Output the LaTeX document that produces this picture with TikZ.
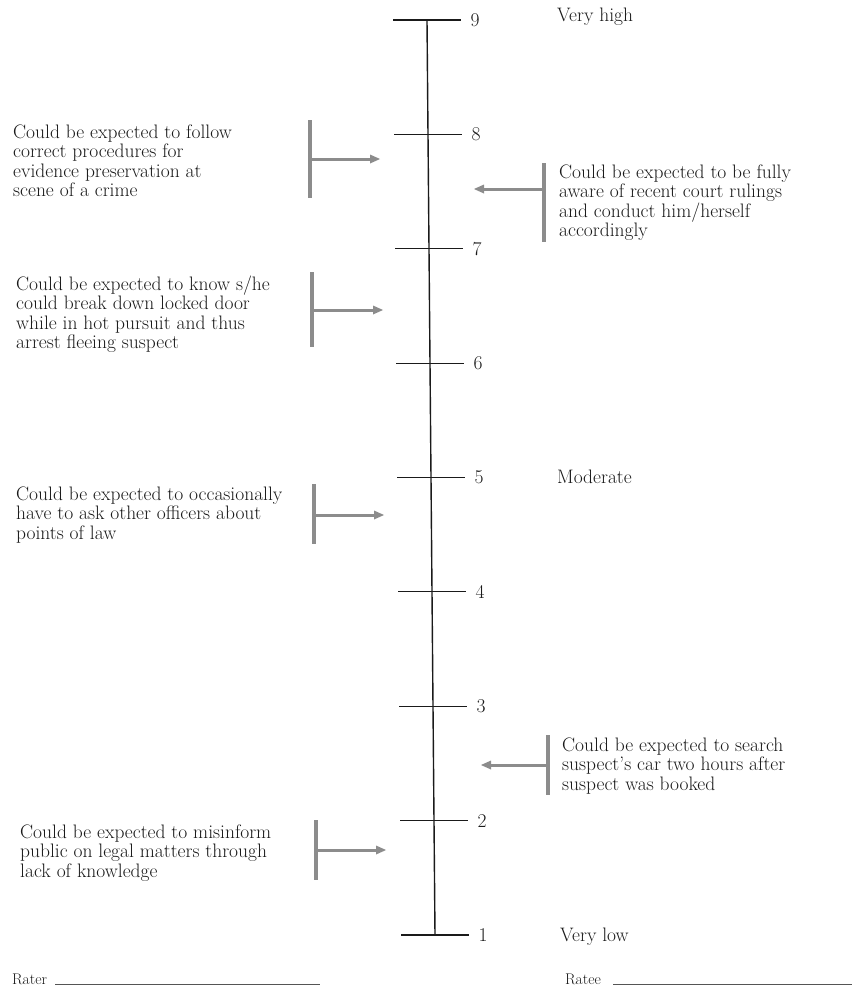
\documentclass[tikz,border=0pt]{standalone}
\usepackage{xcolor}
\usepackage{tikz}
\usetikzlibrary{
  arrows.meta,
  positioning,
  calc
}
\definecolor{bsInk}{HTML}{1A1A1A}
\definecolor{bsBar}{HTML}{8C8C8C}
\definecolor{bsRule}{HTML}{555555}
\newcommand{\bsfont}{\fontsize{19.5}{19.5}\selectfont}
\newcommand{\bssmall}{\fontsize{15.5}{17}\selectfont}
\tikzset{
  bsaxis/.style={draw=bsInk, line width=1.4pt},
  bstick/.style={draw=bsInk, line width=1.1pt},
  bsnum/.style={right, inner sep=0pt, xshift=9pt, font=\bsfont, text=bsInk},
  bslevel/.style={anchor=base west, inner sep=0pt, font=\bsfont, text=bsInk},
  bsanchor/.style={anchor=north west, inner sep=0pt, align=left, font=\bsfont, text=bsInk},
  bsbar/.style={draw=bsBar, line width=4pt},
  bsarrow/.style={draw=bsBar, line width=3pt, -{Triangle[length=10pt, width=9pt, line width=0pt]}},
  bssign/.style={draw=bsRule, line width=0.9pt},
  bssignlabel/.style={anchor=base west, inner sep=0pt, font=\bssmall, text=bsInk}
}

\begin{document}
\begin{tikzpicture}[x=1pt, y=-1pt]
  \useasboundingbox (0,0) rectangle (854,989);

  % the rating scale
  \foreach \v in {1,...,9}
    \coordinate (t\v) at ({435-(\v-1)}, {935-(\v-1)*114.375});
  \draw[bsaxis] (t9) -- (t1);
  \foreach \v in {1,...,9}
    \draw[bstick] ([xshift=-34pt]t\v) -- ([xshift=34pt]t\v) node[bsnum] (n\v) {\v};

  \node[bslevel] (vhigh) at (557,21) {Very high};
  \node[bslevel] (moderate) at (557,483) {Moderate};
  \node[bslevel] (vlow) at (560,941) {Very low};

  % behavioural anchors, left side
  \node[bsanchor] (l1) at (13,124.5) {Could be expected to follow\\correct procedures for\\evidence preservation at\\scene of a crime};
  \coordinate (l1top) at (310,120);
  \coordinate (l1bot) at (310,198);
  \coordinate (l1end) at (380,159);
  \draw[bsbar] (l1top) -- (l1bot);
  \draw[bsarrow] (l1top |- l1end) -- (l1end);

  \node[bsanchor] (l2) at (16,275.5) {Could be expected to know s/he\\could break down locked door\\while in hot pursuit and thus\\arrest fleeing suspect};
  \coordinate (l2top) at (312,272);
  \coordinate (l2bot) at (312,347);
  \coordinate (l2end) at (383,310);
  \draw[bsbar] (l2top) -- (l2bot);
  \draw[bsarrow] (l2top |- l2end) -- (l2end);

  \node[bsanchor] (l3) at (16,486.5) {Could be expected to occasionally\\have to ask other officers about\\points of law};
  \coordinate (l3top) at (314,484);
  \coordinate (l3bot) at (314,544);
  \coordinate (l3end) at (384,515);
  \draw[bsbar] (l3top) -- (l3bot);
  \draw[bsarrow] (l3top |- l3end) -- (l3end);

  \node[bsanchor] (l4) at (20,824.5) {Could be expected to misinform\\public on legal matters through\\lack of knowledge};
  \coordinate (l4top) at (316,820);
  \coordinate (l4bot) at (316,880);
  \coordinate (l4end) at (386,850);
  \draw[bsbar] (l4top) -- (l4bot);
  \draw[bsarrow] (l4top |- l4end) -- (l4end);

  % behavioural anchors, right side
  \node[bsanchor] (r1) at (559,164.5) {Could be expected to be fully\\aware of recent court rulings\\and conduct him/herself\\accordingly};
  \coordinate (r1top) at (544,163);
  \coordinate (r1bot) at (544,242);
  \coordinate (r1end) at (474,189);
  \draw[bsbar] (r1top) -- (r1bot);
  \draw[bsarrow] (r1top |- r1end) -- (r1end);

  \node[bsanchor] (r2) at (562,737.5) {Could be expected to search\\suspect's car two hours after\\suspect was booked};
  \coordinate (r2top) at (548,735);
  \coordinate (r2bot) at (548,795);
  \coordinate (r2end) at (481,765);
  \draw[bsbar] (r2top) -- (r2bot);
  \draw[bsarrow] (r2top |- r2end) -- (r2end);

  % signatures
  \node[bssignlabel] (rater) at (12,984) {Rater};
  \coordinate (raterend) at (320,984);
  \draw[bssign] ([xshift=8pt]rater.base east) -- (raterend);
  \node[bssignlabel] (ratee) at (565,984) {Ratee};
  \coordinate (rateeend) at (852,984);
  \draw[bssign] ([xshift=12pt]ratee.base east) -- (rateeend);
\end{tikzpicture}
\end{document}
